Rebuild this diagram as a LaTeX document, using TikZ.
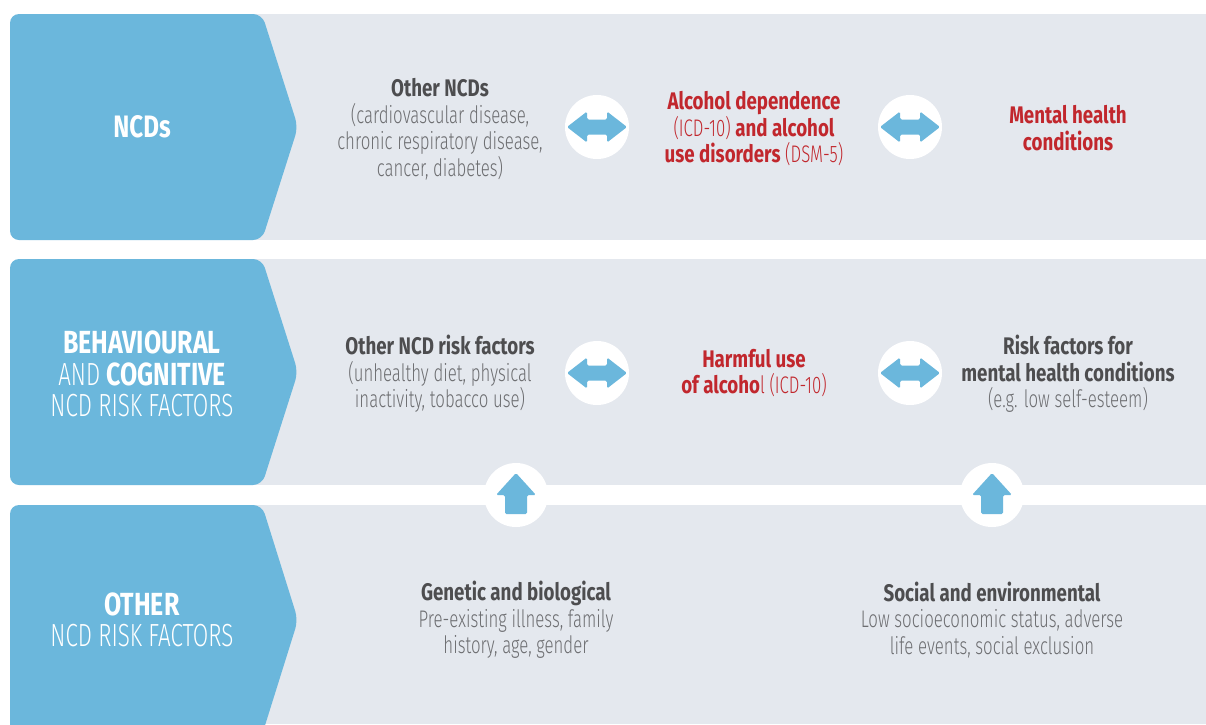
\documentclass[tikz,border=0pt]{standalone}
\usepackage{fontspec}
\setmainfont{Fira Sans}[FakeStretch=0.78]
\newfontfamily\lt{Fira Sans Light}[FakeStretch=0.70]
\definecolor{band}{HTML}{E4E8EE}
\definecolor{tab}{HTML}{6BB7DC}
\definecolor{dk}{HTML}{4D4D4F}
\definecolor{lg}{HTML}{6D6E71}
\definecolor{rd}{HTML}{C1272D}
\newcommand\hv{\rmfamily\bfseries}
\begin{document}
\begin{tikzpicture}[x=1pt,y=-1pt,
  tabshape/.style={fill=tab, rounded corners=9pt},
  circ/.style={circle, fill=white, minimum size=64pt, inner sep=0pt},
  txt/.style={font=\lt\fontsize{24}{26.5}\selectfont, text=lg, align=center, inner sep=0pt},
  lab/.style={font=\lt\fontsize{32}{31.5}\selectfont, text=white, align=center, inner sep=0pt},
  dblarrow/.pic={\fill[tab, rounded corners=1.5pt] (-30,0) -- (-10,-15.5) -- (-10,-7.5)
      -- (10,-7.5) -- (10,-15.5) -- (30,0) -- (10,15.5) -- (10,7.5) -- (-10,7.5)
      -- (-10,15.5) -- cycle;},
  uparrow/.pic={\fill[tab, rounded corners=1.5pt] (0,-22) -- (20,0) -- (11,0) -- (11,19)
      -- (-11,19) -- (-11,0) -- (-20,0) -- cycle;}]
\useasboundingbox (0,0) rectangle (1206,724);
\fill[white] (0,0) rectangle (1206,724);
\begin{scope}
\clip (0,0) rectangle (1206,724);
% grey bands
\fill[band] (200,14) rectangle (1206,240);
\fill[band] (200,259) rectangle (1206,485);
\fill[band] (200,505) rectangle (1206,724);
% blue row tabs
\fill[tabshape] (10,14) -- (262,14) -- (298,127) -- (262,240) -- (10,240) -- cycle;
\fill[tabshape] (10,259) -- (262,259) -- (298,372) -- (262,485) -- (10,485) -- cycle;
\fill[tabshape] (10,505) -- (262,505) -- (298,620) -- (262,735) -- (10,735) -- cycle;
\end{scope}

% row labels
\node[lab, font=\hv\fontsize{31}{31.5}\selectfont] (l1) at (142,127) {NCDs};
\node[lab] (l2) at (142,374) {{\hv BEHAVIOURAL}\\AND {\hv COGNITIVE}\\NCD RISK FACTORS};
\node[lab] (l3) at (142,620) {{\hv OTHER}\\NCD RISK FACTORS};

% row 1
\node[txt] (t11) at (440,129) {{\hv\color{dk}Other NCDs}\\(cardiovascular disease,\\chronic respiratory disease,\\cancer, diabetes)};
\node[txt, text=rd] (t12) at (754,129) {{\hv Alcohol dependence}\\(ICD-10) {\hv and alcohol}\\{\hv use disorders} (DSM-5)};
\node[txt, text=rd, font=\hv\fontsize{24}{26.5}\selectfont] (t13) at (1068,128) {Mental health\\conditions};
\node[circ] (c11) at (597,127) {};
\pic at (c11) {dblarrow};
\node[circ] (c12) at (910,127) {};
\pic at (c12) {dblarrow};

% row 2
\node[txt] (t21) at (440,374) {{\hv\color{dk}Other NCD risk factors}\\(unhealthy diet, physical\\inactivity, tobacco use)};
\node[txt, text=rd] (t22) at (754,373) {{\hv Harmful use}\\{\hv of alcoho}l (ICD-10)};
\node[txt] (t23) at (1068,374) {{\hv\color{dk}Risk factors for}\\{\hv\color{dk}mental health conditions}\\(e.g. low self-esteem)};
\node[circ] (c21) at (597,373) {};
\pic at (c21) {dblarrow};
\node[circ] (c22) at (910,373) {};
\pic at (c22) {dblarrow};

% row 3
\node[txt] (t31) at (516,620) {{\hv\color{dk}Genetic and biological}\\Pre-existing illness, family\\history, age, gender};
\node[txt] (t32) at (992,620) {{\hv\color{dk}Social and environmental}\\Low socioeconomic status, adverse\\life events, social exclusion};
\node[circ] (c31) at (516,495) {};
\pic at (c31) {uparrow};
\node[circ] (c32) at (992,495) {};
\pic at (c32) {uparrow};
\end{tikzpicture}
\end{document}
